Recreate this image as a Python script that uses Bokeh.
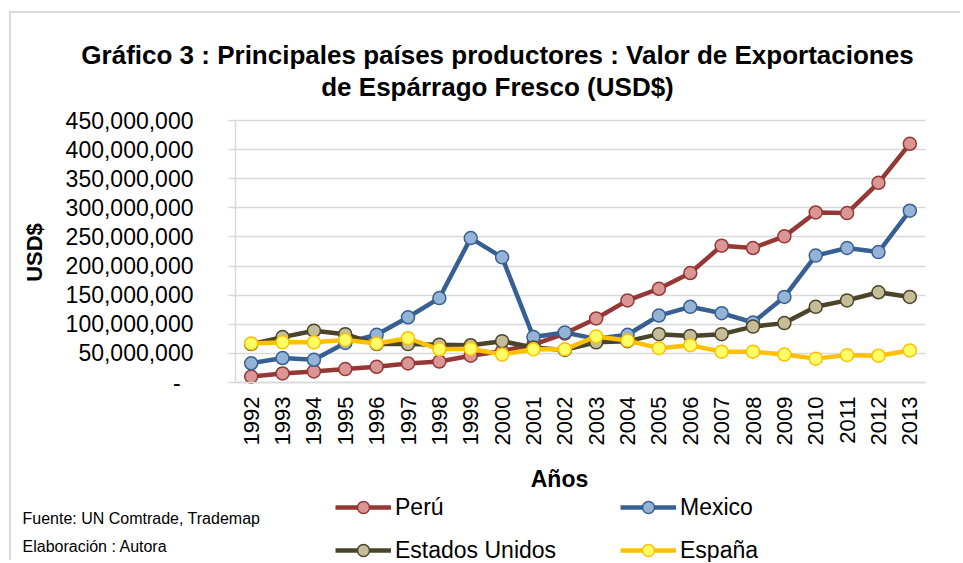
import math
from bokeh.plotting import figure
from bokeh.models import (Range1d, FixedTicker, CustomJSTickFormatter, Label,
                          Legend, LegendItem, ColumnDataSource)
from bokeh.embed import file_html
from bokeh.resources import INLINE

# ---------------- data ----------------
years = [1992, 1993, 1994, 1995, 1996, 1997, 1998, 1999, 2000, 2001, 2002,
         2003, 2004, 2005, 2006, 2007, 2008, 2009, 2010, 2011, 2012, 2013]
peru = [10_300_000, 15_500_000, 19_000_000, 23_000_000, 27_000_000, 32_700_000,
        36_000_000, 46_000_000, 54_000_000, 65_000_000, 84_000_000, 110_000_000,
        141_000_000, 161_000_000, 188_000_000, 235_000_000, 231_000_000,
        251_000_000, 292_000_000, 291_000_000, 343_000_000, 410_000_000]
mexico = [33_000_000, 42_000_000, 39_000_000, 68_000_000, 82_000_000, 112_000_000,
          145_000_000, 248_000_000, 215_000_000, 78_000_000, 86_000_000, 75_000_000,
          82_000_000, 115_000_000, 130_000_000, 119_000_000, 103_000_000,
          147_000_000, 218_000_000, 231_000_000, 224_000_000, 295_000_000]
usa = [66_000_000, 78_000_000, 89_000_000, 83_000_000, 66_000_000, 66_000_000,
       65_000_000, 64_000_000, 71_000_000, 60_000_000, 56_000_000, 69_000_000,
       71_000_000, 83_000_000, 80_000_000, 83_000_000, 96_000_000, 102_000_000,
       130_000_000, 141_000_000, 155_000_000, 147_000_000]
espana = [67_000_000, 69_000_000, 69_000_000, 73_000_000, 67_000_000, 76_000_000,
          57_000_000, 58_000_000, 48_000_000, 57_000_000, 57_000_000, 79_000_000,
          72_000_000, 59_000_000, 64_000_000, 53_000_000, 53_000_000, 48_000_000,
          41_000_000, 47_000_000, 46_000_000, 55_000_000]
y_ticks = [0, 50_000_000, 100_000_000, 150_000_000, 200_000_000, 250_000_000,
           300_000_000, 350_000_000, 400_000_000, 450_000_000]

series = [
    ("Perú", peru, "#953735", "#D99694", "#953735"),
    ("Mexico", mexico, "#376092", "#95B3D7", "#376092"),
    ("Estados Unidos", usa, "#4A452A", "#C4BD97", "#4A452A"),
    ("España", espana, "#FFC000", "#FFFF66", "#FFC000"),
]

# ---------------- layout (page pixels) ----------------
OX, OY = 11, 13            # canvas origin on the page
W, H = 951, 549
FL, FR, FT, FB = 235, 925, 120, 382   # plot area (axes box) on the page
X0, X1 = 1991.5, 2013.5
Y0, Y1 = 0, 450_000_000
SX = (X1 - X0) / (FR - FL)
SY = (Y1 - Y0) / (FB - FT)

def px_x(px):
    return X0 + (px - FL) * SX

def px_y(py):
    return Y0 + (FB - py) * SY

FONT = "Liberation Sans"

p = figure(width=W, height=H, output_backend="svg", toolbar_location=None,
           x_range=Range1d(px_x(OX), px_x(OX + W)),
           y_range=Range1d(px_y(OY + H), px_y(OY)),
           min_border=0,
           styles={"margin-left": "9px", "margin-top": "11px",
                   "border-left": "2px solid #d9d9d9",
                   "border-top": "2px solid #d9d9d9"})
p.outline_line_color = None
p.background_fill_color = "white"
p.border_fill_color = "white"
p.xgrid.grid_line_color = None
p.ygrid.grid_line_color = "#d9d9d9"
p.ygrid.grid_line_width = 1.5
p.ygrid.cross_bounds = (X0, X1)
p.ygrid.bounds = (Y0, Y1)

yax = p.yaxis[0]
yax.fixed_location = X0
yax.bounds = (Y0, Y1)
yax.ticker = FixedTicker(ticks=y_ticks)
yax.formatter = CustomJSTickFormatter(
    code="return tick == 0 ? '-\\u2007' : tick.toLocaleString('en-US');")
yax.axis_line_color = "#d9d9d9"
yax.axis_line_width = 1.5
yax.major_tick_line_color = "#d9d9d9"
yax.major_tick_line_width = 1.5
yax.major_tick_out = 7
yax.major_tick_in = 0
yax.minor_tick_line_color = None
yax.major_label_text_font = FONT
yax.major_label_text_font_size = "23px"
yax.major_label_text_color = "black"
yax.major_label_standoff = 35

xax = p.xaxis[0]
xax.fixed_location = Y0
xax.bounds = (X0, X1)
xax.ticker = FixedTicker(ticks=years)
xax.axis_line_color = "#d9d9d9"
xax.axis_line_width = 1.5
xax.major_tick_line_color = None
xax.major_tick_out = 0
xax.major_tick_in = 0
xax.minor_tick_line_color = None
xax.major_label_orientation = math.pi / 2
xax.major_label_text_font = FONT
xax.major_label_text_font_size = "22px"
xax.major_label_text_color = "black"
xax.major_label_standoff = 14

renderers = {}
for name, vals, lc, fc, mc in series:
    src = ColumnDataSource(dict(x=years, y=vals))
    l = p.line("x", "y", source=src, line_color=lc, line_width=4.5,
               line_join="round")
    s = p.scatter("x", "y", source=src, marker="circle", size=13,
                  fill_color=fc, line_color=mc, line_width=1.5)
    renderers[name] = (l, s)

def make_legend(names, left_px, bottom_px):
    items = [LegendItem(label=n, renderers=list(renderers[n])) for n in names]
    lg = Legend(items=items, location=(left_px - OX, OY + H - bottom_px),
                orientation="vertical", glyph_width=56, glyph_height=30,
                label_height=30, label_standoff=4, spacing=13, padding=0,
                margin=0, border_line_color=None, background_fill_alpha=0,
                label_text_font=FONT, label_text_font_size="23px",
                label_text_color="black")
    p.add_layout(lg, "center")

make_legend(["Perú", "Estados Unidos"], 335, 565)
make_legend(["Mexico", "España"], 620, 565)

def add_label(text, px, py, size, bold=False, align="center", angle=0.0,
              font=FONT):
    p.add_layout(Label(x=px_x(px), y=px_y(py), text=text, text_font=font,
                       text_font_size=size,
                       text_font_style="bold" if bold else "normal",
                       text_align=align, text_baseline="middle", angle=angle,
                       text_color="black"))

add_label("Gráfico 3 : Principales países productores : Valor de Exportaciones",
          497, 54, "26px", bold=True)
add_label("de Espárrago Fresco (USD$)", 497, 86, "26px", bold=True)
add_label("USD$", 34, 252, "22px", bold=True, angle=math.pi / 2)
add_label("Años", 559, 478, "23px", bold=True)
add_label("Fuente: UN Comtrade, Trademap", 22, 518, "16px", align="left")
add_label("Elaboración : Autora", 22, 546, "16px", align="left")

open("out.html", "w").write(file_html(p, INLINE))
